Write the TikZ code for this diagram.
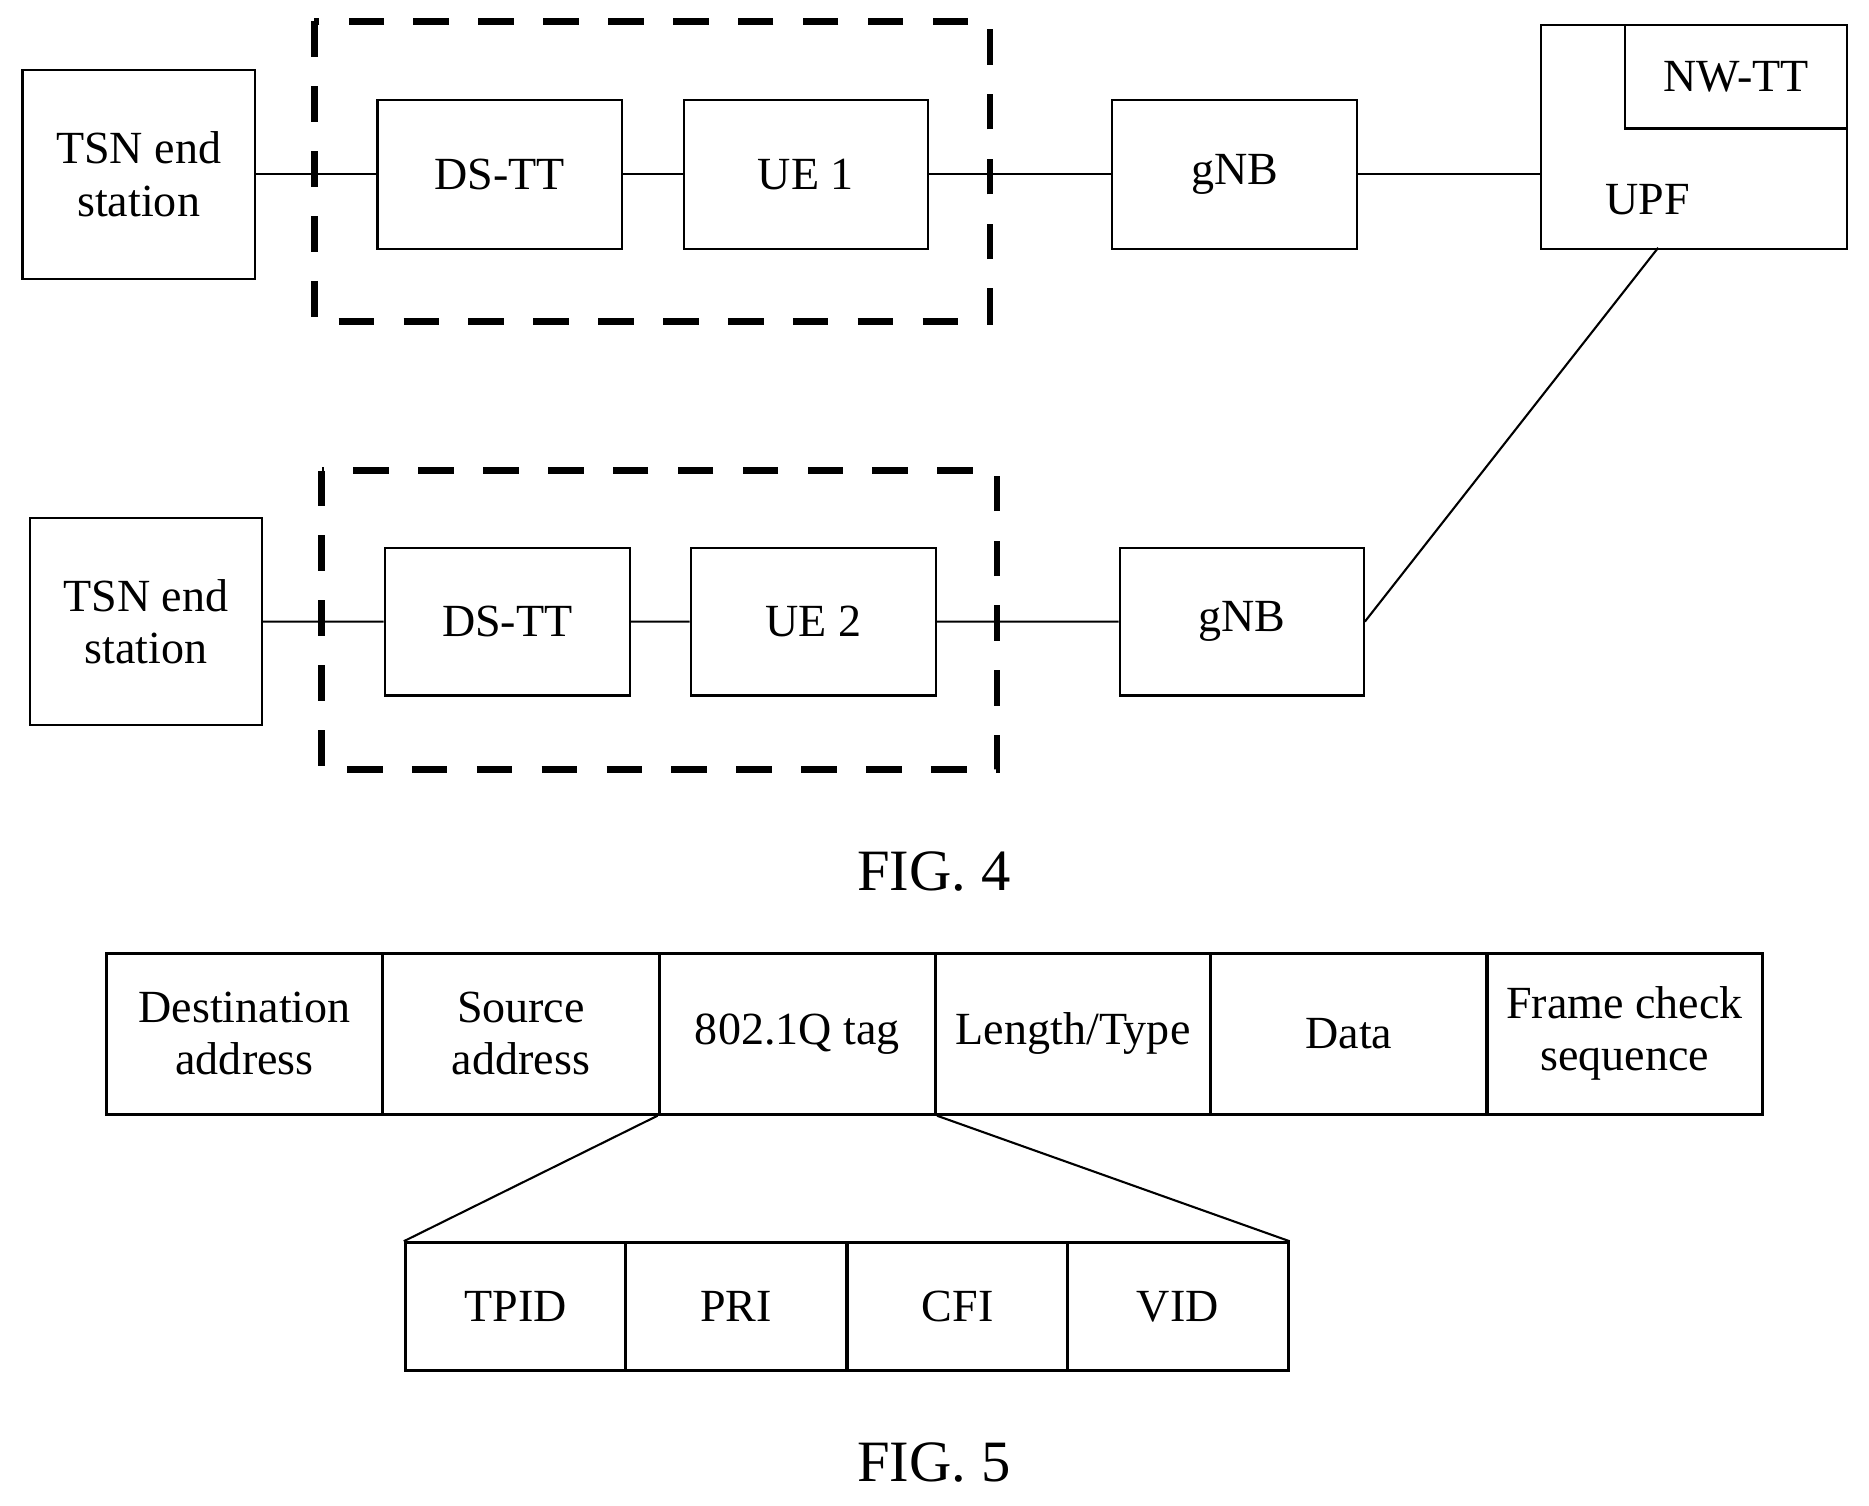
\documentclass[tikz,border=0pt]{standalone}
\usepackage{fontspec}
\setmainfont{Liberation Serif}
\begin{document}
\begin{tikzpicture}[x=0.02cm,y=-0.02cm,
  bx/.style={draw,line width=1pt,font=\fontsize{22}{25}\selectfont,align=center},
  fr/.style={draw,line width=1.5pt},
  dsh/.style={draw,line width=3pt,dash pattern=on 17pt off 14pt},
  ln/.style={line width=1pt},
  tx/.style={font=\fontsize{22}{25}\selectfont,align=center}]
\useasboundingbox (0,0) rectangle (1569,1264);
% row 1
\node[bx,minimum width=195*0.02cm,minimum height=175*0.02cm,anchor=north west] (tsn1) at (18,58) {TSN end\\station};
\node[bx,minimum width=205*0.02cm,minimum height=125*0.02cm,anchor=north west] (ds1) at (316,83) {DS-TT};
\node[bx,minimum width=205*0.02cm,minimum height=125*0.02cm,anchor=north west] (ue1) at (573,83) {UE 1};
\node[bx,minimum width=205*0.02cm,minimum height=125*0.02cm,anchor=north west] (gnb1) at (933,83) {gNB};
\node[bx,minimum width=257*0.02cm,minimum height=188*0.02cm,anchor=north west] (upf) at (1293,20) {};
\node[bx,minimum width=187*0.02cm,minimum height=87*0.02cm,anchor=north west] (nwtt) at (1363,20) {NW-TT};
\node[tx] (upfl) at (1383,168) {UPF};
\draw[dsh] (264,18) rectangle (831,270);
\draw[ln] (tsn1.east) -- (ds1.west) (ds1.east) -- (ue1.west) (ue1.east) -- (gnb1.west) (gnb1.east) -- (upf.west|-gnb1.east);
% row 2
\node[bx,minimum width=195*0.02cm,minimum height=174*0.02cm,anchor=north west] (tsn2) at (24,434) {TSN end\\station};
\node[bx,minimum width=206*0.02cm,minimum height=124*0.02cm,anchor=north west] (ds2) at (322,459) {DS-TT};
\node[bx,minimum width=206*0.02cm,minimum height=124*0.02cm,anchor=north west] (ue2) at (579,459) {UE 2};
\node[bx,minimum width=205*0.02cm,minimum height=124*0.02cm,anchor=north west] (gnb2) at (939,459) {gNB};
\draw[dsh] (270,395) rectangle (837,646);
\coordinate (upfb) at (1392,208);
\draw[ln] (tsn2.east) -- (ds2.west) (ds2.east) -- (ue2.west) (ue2.east) -- (gnb2.west) (gnb2.east) -- (upfb);
\node[font=\fontsize{28}{32}\selectfont] (f4) at (784,732) {FIG. 4};
% FIG 5
\foreach \a/\b/\t [count=\i] in {88/320/{Destination\\address},320/552/{Source\\address},552/784/{802.1Q tag},784/1015/{Length/Type},1015/1247/{Data},1247/1478/{Frame check\\sequence}}
  \node[fr,tx,minimum width=(\b-\a)*0.02cm,minimum height=135*0.02cm,anchor=north west,inner sep=0pt] (c\i) at (\a,799) {\t};
\foreach \a/\t [count=\i] in {339/TPID,524/PRI,710/CFI,895/VID}
  \node[fr,tx,minimum width=185*0.02cm,minimum height=107*0.02cm,anchor=north west] (d\i) at (\a,1042) {\t};
\draw[ln] (c3.south west) -- (d1.north west) (c3.south east) -- (d4.north east);
\node[font=\fontsize{28}{32}\selectfont] (f5) at (784,1228) {FIG. 5};
\end{tikzpicture}
\end{document}
